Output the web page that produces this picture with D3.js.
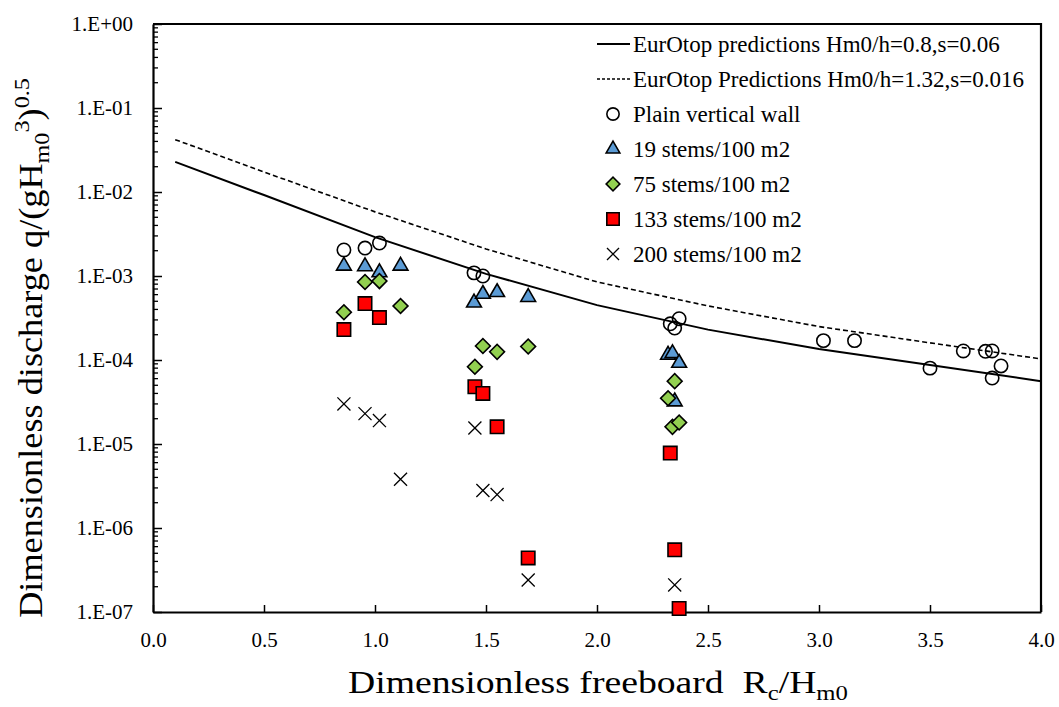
<!DOCTYPE html>
<html>
<head>
<meta charset="utf-8">
<script src="https://cdn.jsdelivr.net/npm/d3@7"></script>
<style>
  body { margin: 0; background: #fff; }
  svg { display: block; }
</style>
</head>
<body>
<div id="chart"></div>
<script>
// axis ticks
const xTicks = [0, 0.5, 1, 1.5, 2, 2.5, 3, 3.5, 4];
const yTicks = [1, 1e-1, 1e-2, 1e-3, 1e-4, 1e-5, 1e-6, 1e-7];
const yTickLabels = ['1.E+00', '1.E-01', '1.E-02', '1.E-03', '1.E-04', '1.E-05', '1.E-06', '1.E-07'];

// EurOtop prediction curves
const eurX      = [0.1, 0.5, 1.0, 1.5, 2.0, 2.5, 3.0, 3.5, 4.0];
const eurSolid  = [2.28e-2, 9.2e-3, 2.9e-3, 1.06e-3, 4.5e-4, 2.3e-4, 1.35e-4, 8.7e-5, 5.6e-5];
const eurDashed = [4.2e-2, 1.73e-2, 5.8e-3, 2.1e-3, 8.5e-4, 4.4e-4, 2.5e-4, 1.6e-4, 1.03e-4];

// measured points
const plainX = [0.86, 0.955, 1.02, 1.446, 1.486, 2.33, 2.35, 2.37, 3.02, 3.16, 3.50, 3.65, 3.75, 3.78, 3.82, 3.78];
const plainY = [2.04e-3, 2.15e-3, 2.47e-3, 1.09e-3, 1.0e-3, 2.7e-4, 2.4e-4, 3.1e-4, 1.7e-4, 1.7e-4, 8.0e-5, 1.28e-4, 1.27e-4, 1.28e-4, 8.5e-5, 6.1e-5];

const s19X = [0.86, 0.955, 1.02, 1.115, 1.446, 1.486, 1.55, 1.69, 2.32, 2.34, 2.37, 2.35];
const s19Y = [1.32e-3, 1.3e-3, 1.1e-3, 1.32e-3, 4.8e-4, 6.1e-4, 6.4e-4, 5.6e-4, 1.15e-4, 1.2e-4, 9.2e-5, 3.2e-5];

const s75X = [0.86, 0.955, 1.02, 1.115, 1.45, 1.486, 1.55, 1.69, 2.35, 2.32, 2.34, 2.37];
const s75Y = [3.7e-4, 8.5e-4, 8.7e-4, 4.4e-4, 8.3e-5, 1.47e-4, 1.25e-4, 1.45e-4, 5.6e-5, 3.5e-5, 1.6e-5, 1.8e-5];

const s133X = [0.86, 0.955, 1.02, 1.45, 1.486, 1.55, 1.69, 2.33, 2.35, 2.37];
const s133Y = [2.3e-4, 4.7e-4, 3.2e-4, 4.8e-5, 4.0e-5, 1.6e-5, 4.4e-7, 7.8e-6, 5.5e-7, 1.1e-7];

const s200X = [0.86, 0.955, 1.02, 1.115, 1.45, 1.486, 1.55, 1.69, 2.35];
const s200Y = [3.0e-5, 2.3e-5, 1.9e-5, 3.8e-6, 1.55e-5, 2.8e-6, 2.5e-6, 2.4e-7, 2.1e-7];

const W = 1059, H = 707;
const plot = { left: 153, right: 1041, top: 24, bottom: 612 };
const FONT = 'Liberation Serif';

const svg = d3.select('#chart').append('svg')
  .attr('width', W).attr('height', H);

const x = d3.scaleLinear().domain([0, 4]).range([plot.left, plot.right]);
const y = d3.scaleLog().domain([1e-7, 1]).range([plot.bottom, plot.top]);

// minor log ticks on y (inside)
const minor = [];
for (let e = -7; e < 0; e++) for (let m = 2; m <= 9; m++) minor.push(m * Math.pow(10, e));
svg.append('g').selectAll('line').data(minor).join('line')
  .attr('x1', plot.left).attr('x2', plot.left + 5)
  .attr('y1', d => y(d)).attr('y2', d => y(d))
  .attr('stroke', '#000').attr('stroke-width', 1.3);

// x axis
const gx = svg.append('g').attr('transform', `translate(0,${plot.bottom})`)
  .call(d3.axisBottom(x).tickValues(xTicks).tickFormat(d3.format('.1f'))
    .tickSizeInner(-7).tickSizeOuter(0).tickPadding(20));
// y axis
const gy = svg.append('g').attr('transform', `translate(${plot.left},0)`)
  .call(d3.axisLeft(y).tickValues(yTicks).tickFormat((d, i) => yTickLabels[i])
    .tickSizeInner(-9).tickSizeOuter(0).tickPadding(20));

[gx, gy].forEach(g => {
  g.attr('font-family', FONT).attr('font-size', 21);
  g.select('.domain').attr('stroke-width', 2.2);
  g.selectAll('.tick line').attr('stroke-width', 1.5);
  g.selectAll('text').attr('fill', '#000').style('font-family', FONT).style('font-size', '21px');
});

// top + right border
svg.append('path')
  .attr('d', `M${plot.left},${plot.top}H${plot.right}V${plot.bottom}`)
  .attr('fill', 'none').attr('stroke', '#000').attr('stroke-width', 2.2);

// curves
const line = d3.line().x((d, i) => x(eurX[i])).y(d => y(d));
svg.append('path').attr('d', line(eurSolid))
  .attr('fill', 'none').attr('stroke', '#000').attr('stroke-width', 2);
svg.append('path').attr('d', line(eurDashed))
  .attr('fill', 'none').attr('stroke', '#000').attr('stroke-width', 1.6)
  .attr('stroke-dasharray', '5,3');

// cross symbol
const symbolCross = {
  draw(ctx, size) {
    const r = Math.sqrt(size) / 2;
    ctx.moveTo(-r, -r); ctx.lineTo(r, r);
    ctx.moveTo(r, -r); ctx.lineTo(-r, r);
  }
};

const series = [
  { name: 'Plain vertical wall', xs: plainX, ys: plainY, type: d3.symbolCircle, size: 140, fill: 'none', sw: 1.6 },
  { name: '19 stems/100 m2', xs: s19X, ys: s19Y, type: d3.symbolTriangle, size: 95, fill: '#5B9BD5', sw: 1.6 },
  { name: '75 stems/100 m2', xs: s75X, ys: s75Y, type: d3.symbolSquare, size: 110, fill: '#92D050', sw: 1.6, rot: 45 },
  { name: '133 stems/100 m2', xs: s133X, ys: s133Y, type: d3.symbolSquare, size: 180, fill: '#FF0000', sw: 1.6 },
  { name: '200 stems/100 m2', xs: s200X, ys: s200Y, type: symbolCross, size: 170, fill: 'none', sw: 1.3 }
];

series.forEach(s => {
  const path = d3.symbol().type(s.type).size(s.size)();
  svg.append('g').selectAll('path')
    .data(s.xs.map((v, i) => [v, s.ys[i]]))
    .join('path')
    .attr('d', path)
    .attr('transform', d => `translate(${x(d[0])},${y(d[1])})` + (s.rot ? ` rotate(${s.rot})` : ''))
    .attr('fill', s.fill)
    .attr('stroke', '#000').attr('stroke-width', s.sw);
});

// legend
const lg = svg.append('g');
const lgTextX = 633, lgY0 = 44, lgDy = 35;
const lineItems = [
  { name: 'EurOtop predictions Hm0/h=0.8,s=0.06', dash: null, sw: 2 },
  { name: 'EurOtop Predictions Hm0/h=1.32,s=0.016', dash: '3,2', sw: 1.6 }
];
const lgTexts = [];
lineItems.forEach((d, i) => {
  const yy = lgY0 + i * lgDy;
  lg.append('line').attr('x1', 597).attr('x2', 630).attr('y1', yy).attr('y2', yy)
    .attr('stroke', '#000').attr('stroke-width', d.sw).attr('stroke-dasharray', d.dash);
  lgTexts.push(lg.append('text').attr('x', lgTextX).attr('y', yy).attr('dy', '0.33em').text(d.name));
});
series.forEach((s, i) => {
  const yy = lgY0 + (i + 2) * lgDy;
  lg.append('path').attr('d', d3.symbol().type(s.type).size(s.size * 0.85)())
    .attr('transform', `translate(613,${yy})` + (s.rot ? ` rotate(${s.rot})` : ''))
    .attr('fill', s.fill).attr('stroke', '#000').attr('stroke-width', s.sw);
  lgTexts.push(lg.append('text').attr('x', lgTextX).attr('y', yy).attr('dy', '0.33em').text(s.name));
});
lgTexts.forEach(t => t.style('font-family', FONT).style('font-size', '21px'));
// first legend row is ≈367px wide in the reference
const lgScale = 367 / lgTexts[0].node().getComputedTextLength();
const lgSize = Math.max(19, Math.min(25, 21 * lgScale));
lgTexts.forEach(t => t.style('font-size', lgSize + 'px'));

// axis titles
const xt = svg.append('text').attr('text-anchor', 'middle')
  .style('font-family', FONT).style('font-size', '32px');
xt.append('tspan').text('Dimensionless freeboard\u00a0\u00a0R');
xt.append('tspan').style('font-size', '21px').attr('dy', 7).text('c');
xt.append('tspan').attr('dy', -7).text('/H');
xt.append('tspan').style('font-size', '21px').attr('dy', 7).text('m0');
const xw = xt.node().getBBox().width;
xt.attr('transform', `translate(598,693) scale(${500 / xw},1)`);

const yt = svg.append('text').attr('text-anchor', 'middle')
  .style('font-family', FONT).style('font-size', '33px');
yt.append('tspan').text('Dimensionless discharge q/(gH');
yt.append('tspan').style('font-size', '22px').attr('dy', 7).text('m0');
yt.append('tspan').style('font-size', '22px').attr('dy', -20).text('3');
yt.append('tspan').attr('dy', 13).text(')');
yt.append('tspan').style('font-size', '22px').attr('dy', -13).text('0.5');
const yw = yt.node().getBBox().width;
yt.attr('transform', `translate(42,348) rotate(-90) scale(${540 / yw},1)`);
</script>
</body>
</html>
